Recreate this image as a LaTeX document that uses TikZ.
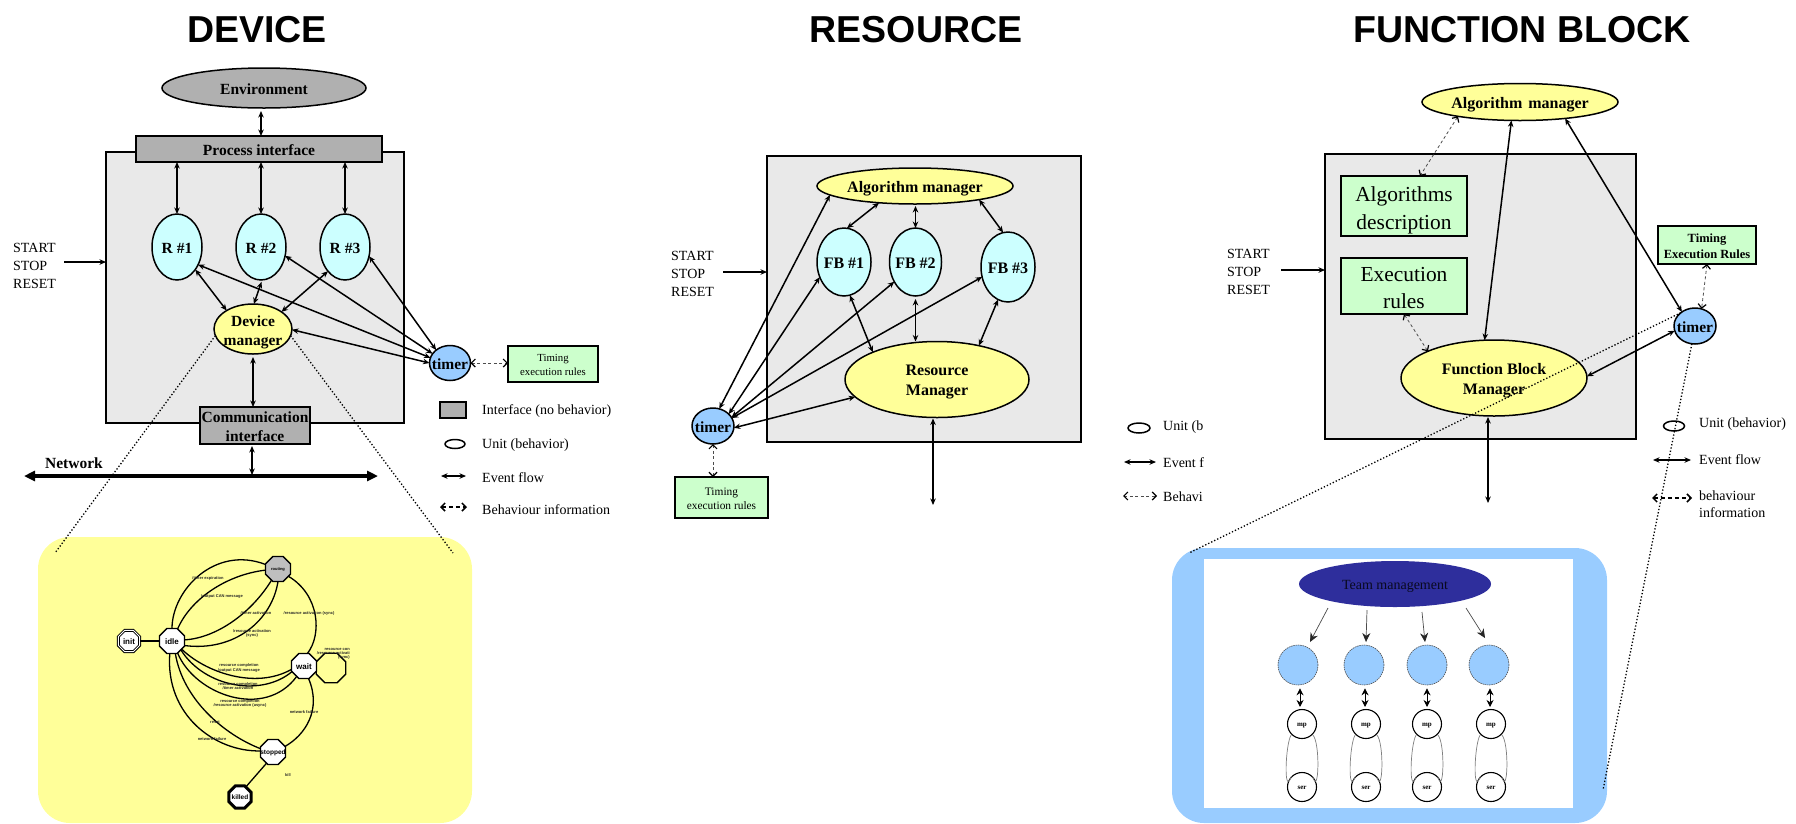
\documentclass[tikz,border=0pt]{standalone}
\usepackage{fontspec}
\setmainfont{Liberation Serif}
\newfontfamily\hv{Liberation Sans}
\usetikzlibrary{shapes.geometric,arrows.meta,calc}
\definecolor{boxg}{HTML}{E9E9E9}
\definecolor{ifg}{HTML}{B0B0B0}
\definecolor{cy}{HTML}{CCFFFF}
\definecolor{ye}{HTML}{FFFF99}
\definecolor{bl}{HTML}{99CCFF}
\definecolor{gr}{HTML}{CCFFCC}
\definecolor{dk}{HTML}{2E2E9C}
\newcommand{\zt}[1]{\makebox[0pt][c]{\raisebox{-0.42em}[0pt][0pt]{\begin{tabular}{@{}c@{}}#1\end{tabular}}}}
\newcommand{\fs}[2]{\fontsize{#1}{#2}\selectfont}
\tikzset{
  ell/.style={ellipse,draw=black,line width=1.5pt,inner sep=0pt,outer sep=0pt},
  rct/.style={rectangle,draw=black,line width=1.6pt,inner sep=0pt,outer sep=0pt},
  bigbox/.style={rct,fill=boxg},
  bt/.style={font=\bfseries\fs{15.5}{19}},
  bt16/.style={font=\bfseries\fs{16}{20}},
  rg/.style={font=\fs{14}{17}},
  ttl/.style={font=\hv\bfseries\fs{37.5}{40},inner sep=0pt},
  lab/.style={anchor=west,inner sep=0pt,font=\fs{14}{17}},
  ev/.style={line width=1.5pt,{Stealth[length=6.5pt,width=5.5pt]}-{Stealth[length=6.5pt,width=5.5pt]}},
  one/.style={line width=1.5pt,-{Stealth[length=6.5pt,width=5.5pt]}},
  beh/.style={line width=0.8pt,draw=black!70,dash pattern=on 3pt off 2.5pt,{Straight Barb[length=4pt,width=8pt,line width=1.2pt,color=black]}-{Straight Barb[length=4pt,width=8pt,line width=1.2pt,color=black]}},
  behk/.style={line width=1.4pt,dash pattern=on 4pt off 3pt,{Straight Barb[length=4pt,width=8pt,line width=1.5pt]}-{Straight Barb[length=4pt,width=8pt,line width=1.5pt]}},
  dot/.style={line width=1.3pt,dash pattern=on 1.3pt off 2pt},
  st/.style={regular polygon,regular polygon sides=8,draw=black,line width=1.4pt,fill=white,inner sep=0pt,outer sep=0pt,minimum size=27pt,font=\hv\bfseries\fs{8}{9}},
  arc/.style={line width=1.3pt},
  tiny/.style={font=\hv\bfseries\fs{4}{4.2},text=black!85,inner sep=0pt,align=center},
  srow/.style={circle,draw=black,line width=1.1pt,fill=white,inner sep=0pt,minimum size=29pt,font=\bfseries\fs{7}{8}},
  bcirc/.style={circle,draw=black!70,line width=0.6pt,dash pattern=on 1.5pt off 0.8pt,fill=bl,inner sep=0pt,minimum size=40pt},
  pan/.style={line width=0.7pt,draw=black!70,-{Stealth[length=9pt,width=8pt,color=black!85]}},
  pdbl/.style={line width=0.8pt,{Stealth[length=7pt,width=7pt]}-{Stealth[length=7pt,width=7pt]}},
  side/.style={line width=0.7pt,draw=black!50},
}
\begin{document}
\begin{tikzpicture}[x=1pt,y=-1pt]
\useasboundingbox (0,0) rectangle (1796,823);

%%%%% DEVICE
\node[ttl] (t1) at (257,29.5) {DEVICE};
\node[bigbox,minimum width=298pt,minimum height=271pt] (dbox) at (255,287.5) {};
\node[ell,fill=ifg,minimum width=204pt,minimum height=40pt,bt] (env) at (264,88) {\zt{Environment}};
\node[rct,fill=ifg,minimum width=246pt,minimum height=26pt,bt] (pi) at (259,149) {\zt{Process interface}};
\node[ell,fill=cy,minimum width=50pt,minimum height=66pt,bt] (r1) at (177,247) {\zt{R \#1}};
\node[ell,fill=cy,minimum width=50pt,minimum height=66pt,bt] (r2) at (261,247) {\zt{R \#2}};
\node[ell,fill=cy,minimum width=50pt,minimum height=66pt,bt] (r3) at (345,247) {\zt{R \#3}};
\node[ell,fill=ye,minimum width=78pt,minimum height=50pt,bt] (dm) at (253,329) {\zt{Device\\manager}};
\node[ell,fill=bl,minimum width=41pt,minimum height=35pt,bt] (tm1) at (450,363) {\zt{timer}};
\node[rct,fill=gr,minimum width=90pt,minimum height=36pt,font=\fs{10.8}{13.5}] (tr1) at (553,364) {\zt{Timing\\execution rules}};
\node[rct,fill=ifg,minimum width=110pt,minimum height=37pt,bt] (ci) at (255,425.5) {\zt{Communication\\interface}};
\node[inner sep=0pt,rg] (st1) at (13,266) [anchor=west,align=left] {START\\[0.6pt]STOP\\[0.6pt]RESET};
\coordinate (sa1) at (64,262);
\draw[one] (sa1) -- (dbox.west |- sa1);
\coordinate (netl) at (24,476);
\coordinate (netr) at (378,476);
\coordinate (netc) at (252,475);
\draw[line width=3.2pt,{Stealth[length=11pt,width=10pt,inset=0pt]}-{Stealth[length=11pt,width=10pt,inset=0pt]}] (netl) -- (netr);
\node[bt,inner sep=0pt] (nt) at (74,463) {Network};
\draw[ev,shorten <=3pt] (r2 |- env.south) -- (r2 |- pi.north);
\draw[ev] (r1 |- pi.south) -- (r1.north);
\draw[ev] (r2 |- pi.south) -- (r2.north);
\draw[ev] (r3 |- pi.south) -- (r3.north);
\draw[ev] (r1.-51) -- (dm.145);
\draw[ev,shorten <=2pt] (r2.-88) -- (dm.88);
\draw[ev] (r3.235) -- (dm.31);
\draw[ev] (r1.-40) -- (tm1.165);
\draw[ev] (r2.-20) -- (tm1.152);
\draw[ev] (r3.-21) -- (tm1.137);
\draw[ev] (dm.-1) -- (tm1.180);
\draw[ev,shorten <=3pt] (dm.south) -- (dm |- ci.north);
\draw[ev,shorten <=2pt] (netc |- ci.south) -- (netc);
\draw[beh] (tm1.east) -- (tr1.west |- tm1.east);
% legend
\node[rct,fill=ifg,minimum width=26pt,minimum height=16pt] (lg1) at (453,410) {};
\node[lab] (lt1) at (482,411) {Interface (no behavior)};
\node[ell,minimum width=20pt,minimum height=9pt] (lg2) at (455,444) {};
\node[lab] (lt2) at (482,445) {Unit (behavior)};
\coordinate (lg3a) at (441,476); \coordinate (lg3b) at (466,476);
\draw[ev] (lg3a) -- (lg3b);
\node[lab] (lt3) at (482,478) {Event flow};
\coordinate (lg4a) at (440,507); \coordinate (lg4b) at (467,507);
\draw[behk] (lg4a) -- (lg4b);
\node[lab] (lt4) at (482,510) {Behaviour information};
% yellow panel
\node[rectangle,fill=ye,rounded corners=32pt,minimum width=434pt,minimum height=286pt,inner sep=0pt] (yp) at (255,680) {};
\coordinate (yl) at (55,553); \coordinate (yr) at (453,553);
\draw[dot] (dm.190) -- (yl);
\draw[dot] (dm.-10) -- (yr);
% state machine
\node[st,minimum size=23pt,double,double distance=1pt,line width=0.9pt] (init) at (129,641) {\zt{init}};
\node[st] (idle) at (172,641) {\zt{idle}};
\node[st,fill=black!25,font=\hv\bfseries\fs{4}{5}] (rout) at (278,569) {\zt{routing}};
\node[st,fill=none,minimum size=32pt] (loop) at (331,668) {};
\node[st] (wait) at (304,666) {\zt{wait}};
\node[st,font=\hv\bfseries\fs{6.5}{8}] (stop) at (273,752) {\zt{stopped}};
\node[st,line width=3pt,minimum size=24pt,font=\hv\bfseries\fs{6.5}{8}] (kill) at (240,797) {\zt{killed}};
\draw[arc] (init) -- (idle);
\draw[arc] (idle.90) .. controls (172,590) and (215,545) .. (rout.160);
\draw[arc] (idle.65) .. controls (190,600) and (225,575) .. (rout.185);
\draw[arc] (idle.5) .. controls (215,638) and (250,615) .. (rout.240);
\draw[arc] (idle.-20) .. controls (235,652) and (272,620) .. (rout.270);
\draw[arc] (rout.-35) .. controls (320,595) and (322,635) .. (wait.75);
\draw[arc] (idle.-40) .. controls (205,672) and (255,690) .. (wait.195);
\draw[arc] (idle.-45) .. controls (205,688) and (262,697) .. (wait.205);
\draw[arc] (idle.-65) .. controls (195,695) and (265,720) .. (wait.235);
\draw[arc] (idle.-75) .. controls (183,700) and (225,735) .. (stop.165);
\draw[arc] (idle.-100) .. controls (165,715) and (215,752) .. (stop.175);
\draw[arc] (wait.-70) .. controls (322,710) and (305,735) .. (stop.25);
\draw[arc] (stop.-120) -- (kill.60);
\node[tiny] (l1) at (208,578) {/timer expiration};
\node[tiny] (l2) at (222,596) {/output CAN message};
\node[tiny] (l3) at (256,613) {/timer activation};
\node[tiny] (l4) at (309,613) {/resource activation (sync)};
\node[tiny] (l5) at (252,633.5) {/resource activation\\(sync)};
\node[tiny] (l6) at (239,668) {resource completion\\/output CAN message};
\node[tiny] (l7) at (238,686) {resource completion\\/timer activation};
\node[tiny] (l8) at (240,703.5) {resource completion\\/resource activation (async)};
\node[tiny] (l9) at (215,722) {reset};
\node[tiny] (l10) at (212,739.5) {network failure};
\node[tiny] (l11) at (304,712) {network failure};
\node[tiny] (l12) at (288,775) {kill};
\node[tiny,align=right,anchor=east] (l13) at (350,654) {resource con\\/resource activati\\(sync)};

%%%%% RESOURCE
\node[ttl] (t2) at (916,29.5) {RESOURCE};
\node[bigbox,minimum width=314pt,minimum height=286pt] (rbox) at (924,299) {};
\node[ell,fill=ye,minimum width=196pt,minimum height=36pt,bt16] (am2) at (915,186) {\zt{Algorithm manager}};
\node[ell,fill=cy,minimum width=54pt,minimum height=68pt,bt16] (f1) at (844,262) {\zt{FB \#1}};
\node[ell,fill=cy,minimum width=52pt,minimum height=68pt,bt16] (f2) at (915.5,262) {\zt{FB \#2}};
\node[ell,fill=cy,minimum width=54pt,minimum height=70pt,bt16] (f3) at (1008,267) {\zt{FB \#3}};
\node[ell,fill=ye,minimum width=184pt,minimum height=76pt,bt16] (rm) at (937,379.5) {\zt{Resource\\Manager}};
\node[ell,fill=bl,minimum width=42pt,minimum height=36pt,bt] (tm2) at (713,426) {\zt{timer}};
\node[rct,fill=gr,minimum width=93pt,minimum height=41pt,font=\fs{11.4}{13.5}] (tr2) at (721.5,497.5) {\zt{Timing\\execution rules}};
\node[inner sep=0pt,rg,anchor=west,align=left] (st2) at (671,274) {START\\[0.6pt]STOP\\[0.6pt]RESET};
\coordinate (sa2) at (723,272);
\draw[one] (sa2) -- (rbox.west |- sa2);
\coordinate (bt2) at (933,505);
\draw[ev] (am2.205) -- (f1.85);
\draw[ev,shorten <=2pt] (f2 |- am2.south) -- (f2.north);
\draw[ev] (am2.-12) -- (f3.98);
\draw[ev] (f1.-80) -- (rm.157);
\draw[ev,shorten <=3pt] (f2.south) -- (f2 |- rm.north);
\draw[ev] (f3.253) -- (rm.39);
\draw[ev] (am2.186) -- (tm2.70);
\draw[ev] (f1.212) -- (tm2.37);
\draw[ev] (f2.223) -- (tm2.25);
\draw[ev] (f3.201) -- (tm2.23);
\draw[ev] (rm.192) -- (tm2.-5);
\draw[ev,shorten <=1pt] (bt2 |- rm.south) -- (bt2);
\draw[beh] (tm2.south) -- (tm2 |- tr2.north);
\node[ell,minimum width=22pt,minimum height=10pt] (lg5) at (1139,428) {};
\node[lab] (lt5) at (1163,427) {Unit (b};
\coordinate (lg6a) at (1124,462); \coordinate (lg6b) at (1156,462);
\draw[ev] (lg6a) -- (lg6b);
\node[lab] (lt6) at (1163,463) {Event f};
\coordinate (lg7a) at (1123,496); \coordinate (lg7b) at (1157,496);
\draw[beh] (lg7a) -- (lg7b);
\node[lab] (lt7) at (1163,497) {Behavi};

%%%%% FUNCTION BLOCK
\node[ttl] (t3) at (1522,29.5) {FUNCTION BLOCK};
\node[bigbox,minimum width=311pt,minimum height=285pt] (fbox) at (1480.5,296.5) {};
\node[ell,fill=ye,minimum width=196pt,minimum height=37pt,font=\bfseries\fs{16}{20}] (am3) at (1520,102) {\zt{Algorithm\hspace{2pt} manager}};
\node[rct,fill=gr,minimum width=126pt,minimum height=60pt,font=\fs{21.4}{28}] (alg) at (1404,206) {\zt{Algorithms\\description}};
\node[rct,fill=gr,minimum width=126pt,minimum height=56pt,font=\fs{21.4}{27}] (exe) at (1404,286) {\zt{Execution\\rules}};
\node[ell,fill=ye,minimum width=186pt,minimum height=76pt,bt16] (fbm) at (1494,378) {\zt{Function Block\\Manager}};
\node[ell,fill=bl,minimum width=42pt,minimum height=36pt,bt] (tm3) at (1695,326) {\zt{timer}};
\node[rct,fill=gr,minimum width=98pt,minimum height=38pt,font=\bfseries\fs{12.5}{15.5}] (tr3) at (1707,245) {\zt{Timing\\Execution Rules}};
\node[inner sep=0pt,rg,anchor=west,align=left] (st3) at (1227,272) {START\\[0.6pt]STOP\\[0.6pt]RESET};
\coordinate (sa3) at (1281,270);
\draw[one] (sa3) -- (fbox.west |- sa3);
\coordinate (bt3) at (1488,503);
\draw[beh] (am3.193) -- (alg.62);
\draw[ev] (am3.245) -- (fbm.104);
\draw[ev] (am3.-20) -- (tm3.133);
\draw[beh] (exe.south) -- (fbm.158);
\draw[ev] (fbm.1) -- (tm3.193);
\draw[beh] (tr3.south) -- (tm3.69);
\draw[ev,shorten <=1pt] (bt3 |- fbm.south) -- (bt3);
\node[ell,minimum width=21pt,minimum height=10pt] (lg8) at (1674,426) {};
\node[lab] (lt8) at (1699,424) {Unit (behavior)};
\coordinate (lg9a) at (1653,460); \coordinate (lg9b) at (1691,460);
\draw[ev] (lg9a) -- (lg9b);
\node[lab] (lt9) at (1699,460) {Event flow};
\coordinate (lg10a) at (1652,498); \coordinate (lg10b) at (1692,498);
\draw[behk] (lg10a) -- (lg10b);
\node[lab,align=left] (lt10) at (1699,504) {behaviour\\information};
% blue panel
\node[rectangle,fill=bl,rounded corners=32pt,minimum width=435pt,minimum height=275pt,inner sep=0pt] (bp) at (1389.5,685.5) {};
\node[rectangle,fill=white,minimum width=369pt,minimum height=249pt,inner sep=0pt] (wp) at (1388.5,683.5) {};
\node[ellipse,fill=dk,minimum width=192pt,minimum height=46pt,inner sep=0pt,font=\fs{14}{16},text=black!80!dk] (tm) at (1395,584) {\zt{Team management}};
\foreach \i/\cx/\sx/\ax/\lt/\lb in {1/1298/1302/1300/mp/ser,2/1364/1366/1365/mp/ser,3/1427/1427/1427/mp/ser,4/1489/1491/1490/mp/ser}{
  \node[bcirc] (c\i) at (\cx,665) {};
  \node[srow] (u\i) at (\sx,724) {\zt{\lt}};
  \node[srow] (v\i) at (\sx,787) {\zt{\lb}};
  \draw[pdbl] ($(c\i.south -| \ax,0)+(0,3)$) -- ($(u\i.north -| \ax,0)+(0,-2)$);
  \draw[side] (u\i.-135) .. controls ++(-6,8) and ++(-8,22) .. ($(v\i.135)$);
  \draw[side] (u\i.-45) .. controls ++(8,8) and ++(6,22) .. ($(v\i.45)$);
}
\coordinate (p1s) at (1328,608); \coordinate (p1e) at (1310,642);
\coordinate (p2s) at (1367,610); \coordinate (p2e) at (1366,642);
\coordinate (p3s) at (1422,612); \coordinate (p3e) at (1425,642);
\coordinate (p4s) at (1466,608); \coordinate (p4e) at (1485,638);
\draw[pan] (p1s) -- (p1e);
\draw[pan] (p2s) -- (p2e);
\draw[pan] (p3s) -- (p3e);
\draw[pan] (p4s) -- (p4e);
% zoom lines
\coordinate (bl) at (1189,553); \coordinate (br) at (1603,790);
\draw[dot] (tm3.137) -- (bl);
\draw[dot] (tm3.-100) -- (br);
\end{tikzpicture}
\end{document}
